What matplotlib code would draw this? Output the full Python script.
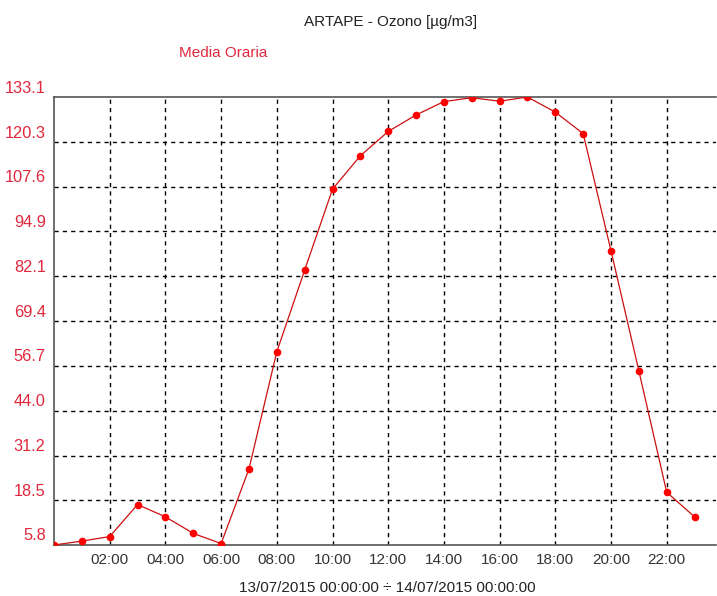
import matplotlib.pyplot as plt
import matplotlib.transforms as mtransforms

# hourly ozone means, 13/07/2015
hours = list(range(24))
ozone = [5.8, 6.9, 8.2, 17.3, 13.8, 9.1, 6.2, 27.4, 60.7, 83.9, 106.9, 116.4,
         123.3, 128.0, 131.8, 132.9, 131.9, 133.1, 128.8, 122.7, 89.4, 55.3, 20.8, 13.8]

y_ticks = [5.8, 18.5, 31.2, 44.0, 56.7, 69.4, 82.1, 94.9, 107.6, 120.3, 133.1]
x_ticks = [2, 4, 6, 8, 10, 12, 14, 16, 18, 20, 22]
x_labels = ['02:00', '04:00', '06:00', '08:00', '10:00', '12:00',
            '14:00', '16:00', '18:00', '20:00', '22:00']

plt.rcParams['font.family'] = ['Liberation Sans', 'DejaVu Sans']
plt.rcParams['font.size'] = 11

fig = plt.figure(figsize=(7.17, 5.96), dpi=100)
ax = fig.add_axes([54 / 717, 51 / 596, 662 / 717, 448 / 596])

ax.plot(hours, ozone, color='#cc1010', linewidth=0.9, marker='o',
        markersize=4.5, markerfacecolor='red', markeredgecolor='red', zorder=3)

ax.set_xlim(0, 23.77)
ax.set_ylim(y_ticks[0], y_ticks[-1])

ax.set_xticks(x_ticks)
ax.set_xticklabels(x_labels)
ax.set_yticks(y_ticks)
ax.set_yticklabels(['%.1f' % v for v in y_ticks], fontsize=11.8)

ax.tick_params(axis='both', length=0)
ax.tick_params(axis='x', pad=6, colors='#333333')
ax.tick_params(axis='y', pad=6, colors='#e0283c')

# the original draws y labels a bit above their grid line
shift = mtransforms.ScaledTranslation(0, 10.5 / 100, fig.dpi_scale_trans)
for lab in ax.get_yticklabels():
    lab.set_transform(lab.get_transform() + shift)

ax.grid(True, color='black', linestyle=(0, (3, 3)), linewidth=1.0)
# no dashes on top of the frame lines
ygrid = ax.yaxis.get_gridlines()
ygrid[0].set_visible(False)
ygrid[-1].set_visible(False)

for side in ['left', 'bottom', 'top']:
    ax.spines[side].set_color('#555555')
    ax.spines[side].set_linewidth(1.2)
ax.spines['right'].set_visible(False)

fig.text(391 / 717, 1 - 22 / 596, 'ARTAPE - Ozono [µg/m3]', ha='center', va='center',
         color='#222222', fontsize=11)
fig.text(223 / 717, 1 - 53 / 596, 'Media Oraria', ha='center', va='center',
         color='#e0283c', fontsize=11)
fig.text(387 / 717, 1 - 588 / 596, '13/07/2015 00:00:00 ÷ 14/07/2015 00:00:00',
         ha='center', va='center', color='#222222', fontsize=11)

fig.savefig('out.png', dpi=100)
